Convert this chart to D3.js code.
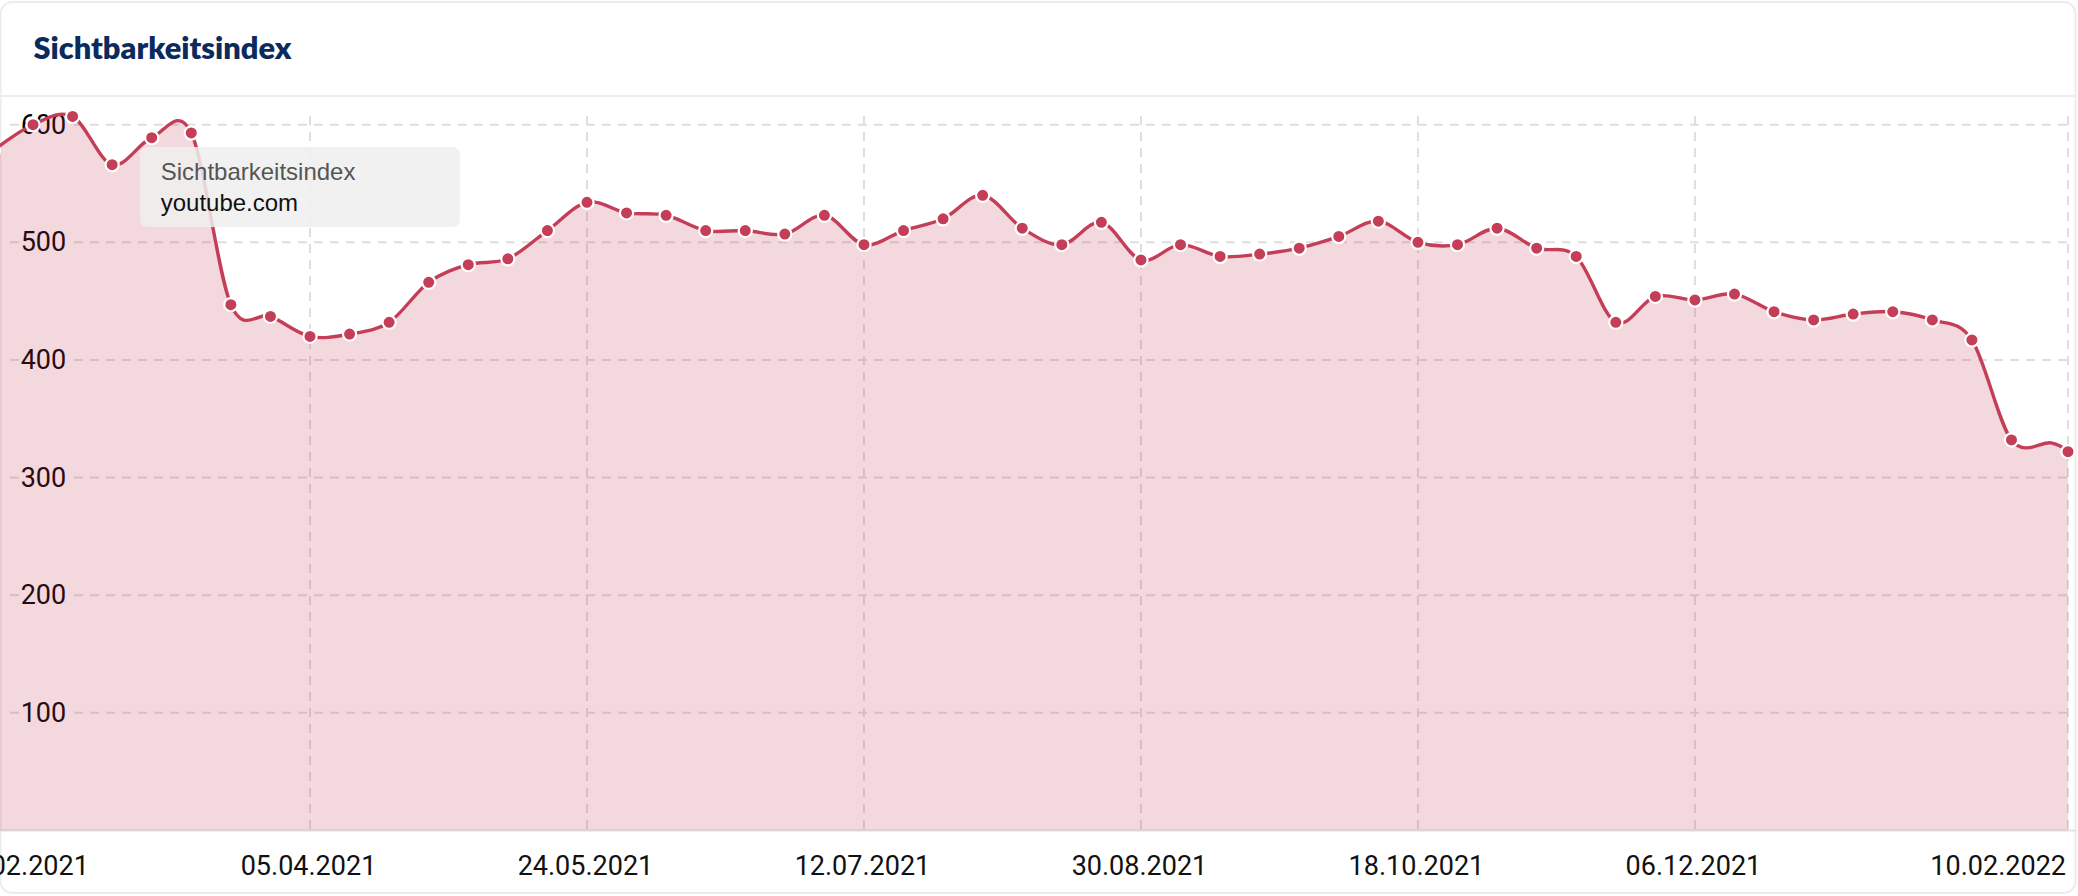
<!DOCTYPE html>
<html><head><meta charset="utf-8">
<script src="https://cdn.jsdelivr.net/npm/d3@7"></script>
<style>
html,body{margin:0;padding:0;background:#fff;}
svg{display:block;}
</style></head><body>
<svg id="c" width="2078" height="896"></svg>
<script>
// ---- data ----
const dates = ["08.02.2021","15.02.2021","22.02.2021","01.03.2021","08.03.2021","15.03.2021","22.03.2021","29.03.2021",
  "05.04.2021","12.04.2021","19.04.2021","26.04.2021","03.05.2021","10.05.2021","17.05.2021","24.05.2021","31.05.2021",
  "07.06.2021","14.06.2021","21.06.2021","28.06.2021","05.07.2021","12.07.2021","19.07.2021","26.07.2021","02.08.2021",
  "09.08.2021","16.08.2021","23.08.2021","30.08.2021","06.09.2021","13.09.2021","20.09.2021","27.09.2021","04.10.2021",
  "11.10.2021","18.10.2021","25.10.2021","01.11.2021","08.11.2021","15.11.2021","22.11.2021","29.11.2021","06.12.2021",
  "13.12.2021","20.12.2021","27.12.2021","03.01.2022","10.01.2022","17.01.2022","24.01.2022","31.01.2022","07.02.2022","10.02.2022"];
const values = [578,600,607,566,589,593,447,437,
  420,422,432,466,481,486,510,534,525,
  523,510,510,507,523,498,510,520,540,
  512,498,517,485,498,488,490,495,505,
  518,500,498,512,495,488,432,454,451,
  456,441,434,439,441,434,417,332,329.5,322];
const hiddenMarkers = ["07.02.2022"];
const yTicks = [100,200,300,400,500,600];
const xTicks = ["15.02.2021","05.04.2021","24.05.2021","12.07.2021","30.08.2021","18.10.2021","06.12.2021","10.02.2022"];
const gridTicks = ["05.04.2021","24.05.2021","12.07.2021","30.08.2021","18.10.2021","06.12.2021","10.02.2022"];
const titleText = "Sichtbarkeitsindex";
const tooltipLines = ["Sichtbarkeitsindex","youtube.com"];

// ---- setup ----
const parse = d3.utcParse("%d.%m.%Y");
const data = dates.map((d,i)=>({date:parse(d), value:values[i], label:d}));
const svg = d3.select("#c");

const x = d3.scaleUtc().domain([parse("05.04.2021"), parse("10.02.2022")]).range([310, 2068]);
const y = d3.scaleLinear().domain([0,600]).range([830.4,124.7]);

const red = "#c43e57";

// card
svg.append("rect").attr("x",0.5).attr("y",2).attr("width",2075).attr("height",891)
  .attr("rx",12).attr("fill","#fff").attr("stroke","#ececec").attr("stroke-width",2);
svg.append("defs").append("clipPath").attr("id","cardclip")
  .append("rect").attr("x",0).attr("y",2).attr("width",2076).attr("height",891).attr("rx",12);

svg.append("text").attr("x",33.5).attr("y",58.5)
  .attr("font-family","Lato, 'Open Sans', sans-serif").attr("font-weight",800)
  .attr("font-size",31).attr("fill","#0c2b5d")
  .attr("textLength",258).attr("lengthAdjust","spacingAndGlyphs")
  .text(titleText);
svg.append("line").attr("x1",0).attr("x2",2076).attr("y1",96).attr("y2",96)
  .attr("stroke","#ececec").attr("stroke-width",2);

const plot = svg.append("g").attr("clip-path","url(#cardclip)");

// horizontal grid
const hg = plot.append("g");
yTicks.forEach(v=>{
  hg.append("line").attr("x1",10).attr("x2",19).attr("y1",y(v)).attr("y2",y(v))
    .attr("stroke","#dedede").attr("stroke-width",2);
  hg.append("line").attr("x1",74).attr("x2",2068).attr("y1",y(v)).attr("y2",y(v))
    .attr("stroke","#dedede").attr("stroke-width",2).attr("stroke-dasharray","9,7");
});
// vertical grid
const vg = plot.append("g");
gridTicks.forEach(d=>{
  vg.append("line").attr("x1",x(parse(d))).attr("x2",x(parse(d))).attr("y1",116).attr("y2",y(0))
    .attr("stroke","#dedede").attr("stroke-width",2).attr("stroke-dasharray","9,7");
});
// x axis baseline
plot.append("line").attr("x1",0).attr("x2",2076).attr("y1",y(0)).attr("y2",y(0))
  .attr("stroke","#e2e2e2").attr("stroke-width",2);

// y labels
plot.append("g").selectAll("text").data(yTicks).join("text")
  .attr("x",20.7).attr("y",d=>y(d)+9)
  .attr("font-family","Roboto, sans-serif").attr("font-size",27).attr("fill","#000")
  .text(d=>d);

// area + line
const line = d3.line().x(d=>x(d.date)).y(d=>y(d.value)).curve(d3.curveCardinal.tension(0));
const area = d3.area().x(d=>x(d.date)).y0(y(0)).y1(d=>y(d.value)).curve(d3.curveCardinal.tension(0));
plot.append("path").attr("d",area(data)).attr("fill",red).attr("fill-opacity",0.2);
plot.append("path").attr("d",line(data)).attr("fill","none").attr("stroke",red).attr("stroke-width",3.4);

// markers
plot.append("g").selectAll("circle").data(data.filter(d=>!hiddenMarkers.includes(d.label))).join("circle")
  .attr("cx",d=>x(d.date)).attr("cy",d=>y(d.value)).attr("r",6.6)
  .attr("fill",red).attr("stroke","#fff").attr("stroke-width",2.2);

// tooltip
const tt = svg.append("g");
tt.append("rect").attr("x",140).attr("y",147).attr("width",320).attr("height",80).attr("rx",7)
  .attr("fill","#efefef").attr("fill-opacity",0.86);
tt.selectAll("text").data(tooltipLines).join("text")
  .attr("x",160.7).attr("y",(d,i)=>179.5+i*31.5)
  .attr("font-family","'Liberation Sans', Arial, Helvetica, sans-serif").attr("font-size",24)
  .attr("fill",(d,i)=>i===0?"#555":"#111")
  .text(d=>d);

// x labels
const nX = xTicks.length;
svg.append("g").selectAll("text").data(xTicks).join("text")
  .attr("x",(d,i)=> i===0 ? x(parse(d))-12 : (i===nX-1 ? x(parse(d))-2 : x(parse(d))-1.5))
  .attr("y",875)
  .attr("text-anchor",(d,i)=> i===nX-1 ? "end" : "middle")
  .attr("font-family","Roboto, sans-serif").attr("font-size",27).attr("fill","#111")
  .text(d=>d);
</script>
</body></html>
